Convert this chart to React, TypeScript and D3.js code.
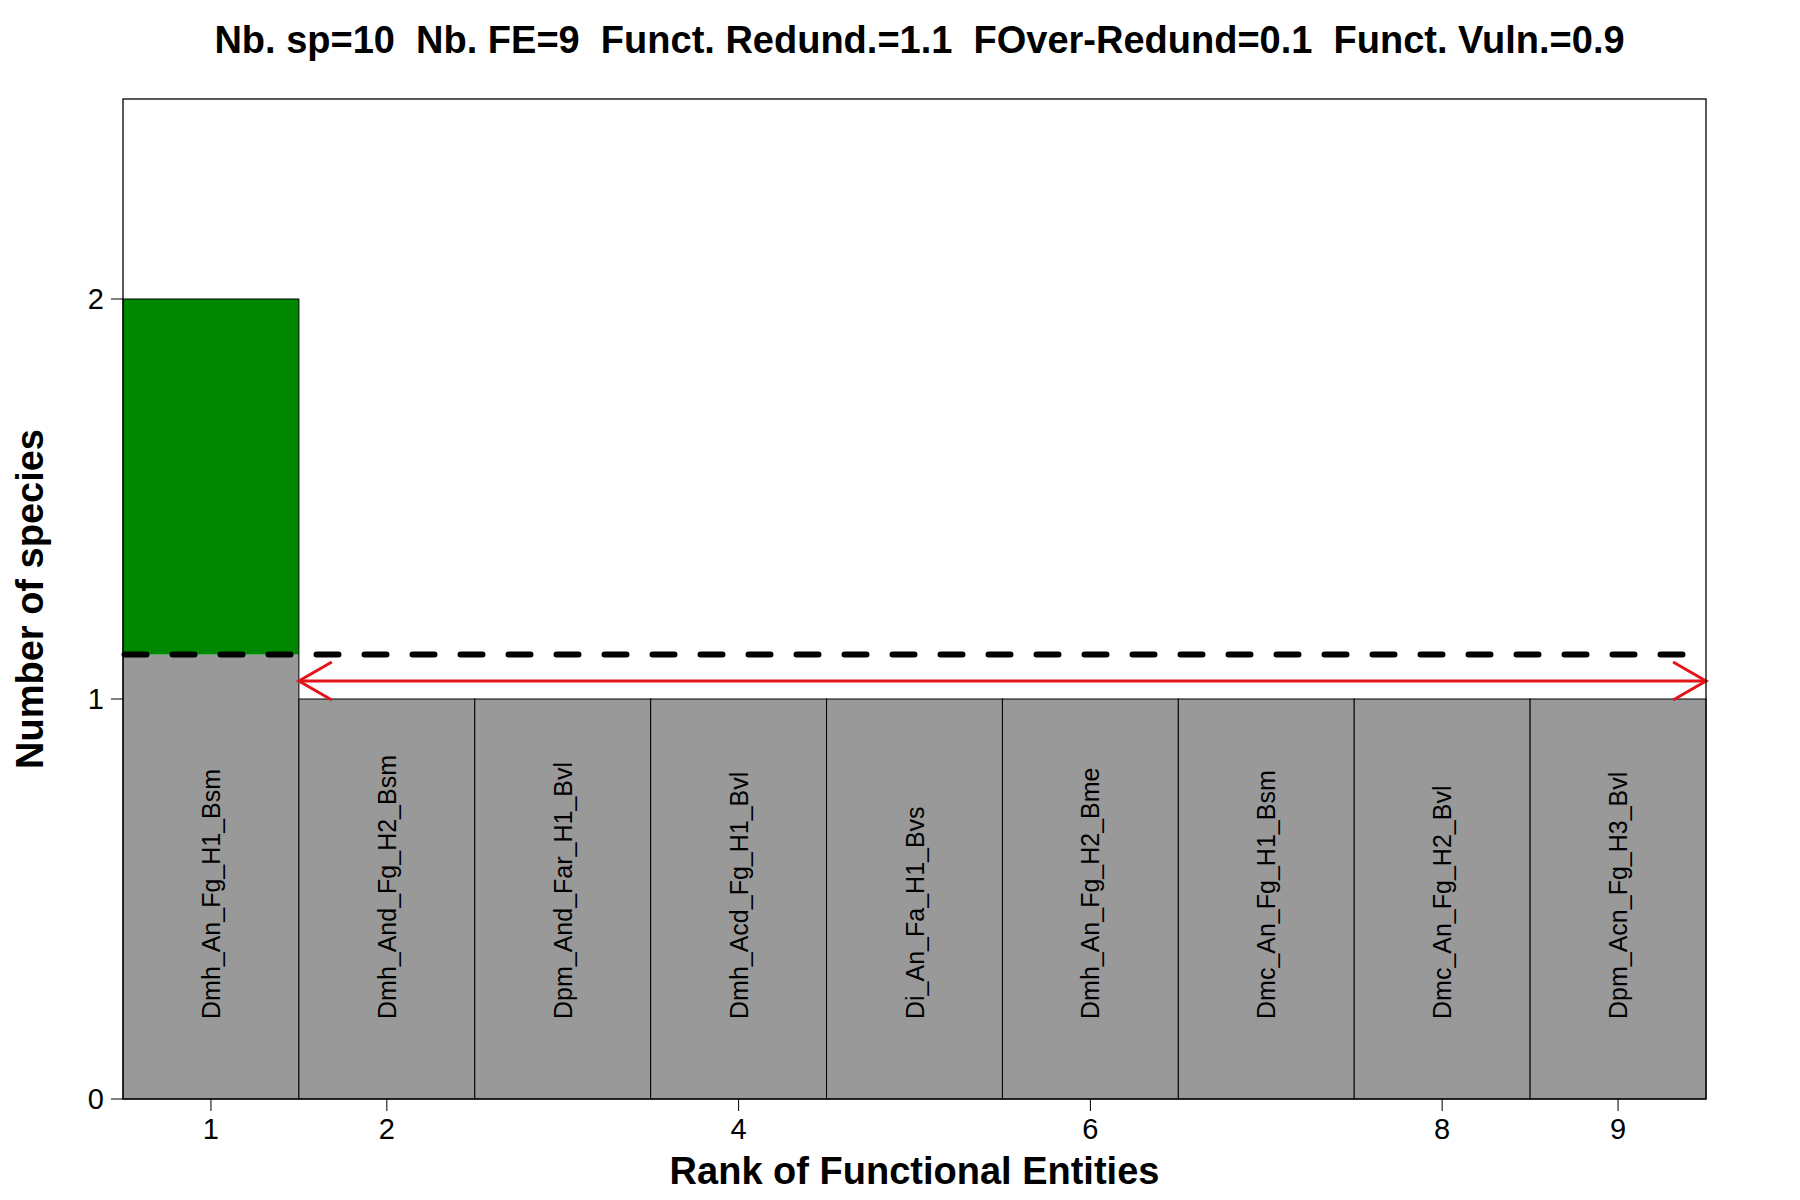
import * as d3 from 'd3';
import { useEffect } from 'react';

// Functional entities, sorted by rank
const feNames = [
    'Dmh_An_Fg_H1_Bsm',
    'Dmh_And_Fg_H2_Bsm',
    'Dpm_And_Far_H1_Bvl',
    'Dmh_Acd_Fg_H1_Bvl',
    'Di_An_Fa_H1_Bvs',
    'Dmh_An_Fg_H2_Bme',
    'Dmc_An_Fg_H1_Bsm',
    'Dmc_An_Fg_H2_Bvl',
    'Dpm_Acn_Fg_H3_Bvl',
];
const nbSpecies = [2, 1, 1, 1, 1, 1, 1, 1, 1];
const xTicks = [1, 2, 4, 6, 8, 9];
const yTicks = [0, 1, 2];
const arrowVal = 1.045;
const title = 'Nb. sp=10  Nb. FE=9  Funct. Redund.=1.1  FOver-Redund=0.1  Funct. Vuln.=0.9';

const W = 1800;
const H = 1200;
const margin = { top: 99, right: 94, bottom: 101, left: 123 };
const FONT = '"Liberation Sans", Arial, sans-serif';

export default function App() {
    useEffect(() => {
        document.body.style.margin = '0';
    }, []);

    const x = d3.scaleLinear()
        .domain([0.5, nbSpecies.length + 0.5])
        .range([margin.left, W - margin.right]);
    const y = d3.scaleLinear()
        .domain([0, 2.5])
        .range([H - margin.bottom, margin.top]);

    // mean redundancy = nb species / nb FE
    const meanRed = d3.sum(nbSpecies) / nbSpecies.length;

    const x0 = x.range()[0], x1 = x.range()[1];
    const y0 = y(0), yTop = y.range()[1];

    // arrow heads (R arrows, angle 30)
    const ay = y(arrowVal);
    const headL = 38;
    const ang = Math.PI / 6;
    const hx = headL * Math.cos(ang), hy = headL * Math.sin(ang);
    const aStart = x(1.5), aEnd = x(nbSpecies.length + 0.5);

    return (
        <svg width={W} height={H} style={{ display: 'block', background: '#fff' }} fontFamily={FONT}>
            {/* bars */}
            {nbSpecies.map((v, i) => {
                const r = i + 1;
                const bx = x(r - 0.5);
                const bw = x(r + 0.5) - x(r - 0.5);
                const grayTop = Math.min(v, meanRed);
                return (
                    <g key={r}>
                        <rect x={bx} y={y(grayTop)} width={bw} height={y0 - y(grayTop)} fill="#999999" />
                        {v > meanRed && (
                            <rect x={bx} y={y(v)} width={bw} height={y(meanRed) - y(v)} fill="#008800" />
                        )}
                        <rect x={bx} y={y(v)} width={bw} height={y0 - y(v)} fill="none" stroke="#000" strokeWidth={1} />
                        <text
                            transform={`translate(${x(r)},${y(0.2)}) rotate(-90)`}
                            fontSize={25}
                            dominantBaseline="central"
                            textAnchor="start"
                        >
                            {feNames[i]}
                        </text>
                    </g>
                );
            })}

            {/* mean redundancy */}
            <line
                x1={x0 + 1.5} x2={x1} y1={y(meanRed)} y2={y(meanRed)}
                stroke="#000" strokeWidth={6} strokeDasharray="22 26" strokeLinecap="round"
            />

            {/* over-redundancy arrow */}
            <g stroke="#E3141A" strokeWidth={3} fill="none">
                <line x1={aStart} x2={aEnd} y1={ay} y2={ay} />
                <polyline points={`${aStart + hx},${ay - hy} ${aStart},${ay} ${aStart + hx},${ay + hy}`} />
                <polyline points={`${aEnd - hx},${ay - hy} ${aEnd},${ay} ${aEnd - hx},${ay + hy}`} />
            </g>

            {/* box */}
            <rect x={x0} y={yTop} width={x1 - x0} height={y0 - yTop} fill="none" stroke="#000" strokeWidth={1.3} />

            {/* y axis */}
            {yTicks.map(t => (
                <g key={t}>
                    <line x1={x0 - 12} x2={x0} y1={y(t)} y2={y(t)} stroke="#000" />
                    <text x={x0 - 19} y={y(t)} fontSize={29} textAnchor="end" dominantBaseline="central">{t}</text>
                </g>
            ))}

            {/* x axis */}
            {xTicks.map(t => (
                <g key={t}>
                    <line x1={x(t)} x2={x(t)} y1={y0} y2={y0 + 12} stroke="#000" />
                    <text x={x(t)} y={y0 + 40} fontSize={29} textAnchor="middle">{t}</text>
                </g>
            ))}

            <text x={(x0 + x1) / 2} y={1184} fontSize={38} fontWeight="bold" textAnchor="middle">
                Rank of Functional Entities
            </text>
            <text
                transform={`translate(43,${(yTop + y0) / 2}) rotate(-90)`}
                fontSize={38} fontWeight="bold" textAnchor="middle"
            >
                Number of species
            </text>
            <text x={(x0 + x1) / 2 + 5} y={53} fontSize={38} fontWeight="bold" textAnchor="middle" style={{ whiteSpace: 'pre' }}>
                {title}
            </text>
        </svg>
    );
}
